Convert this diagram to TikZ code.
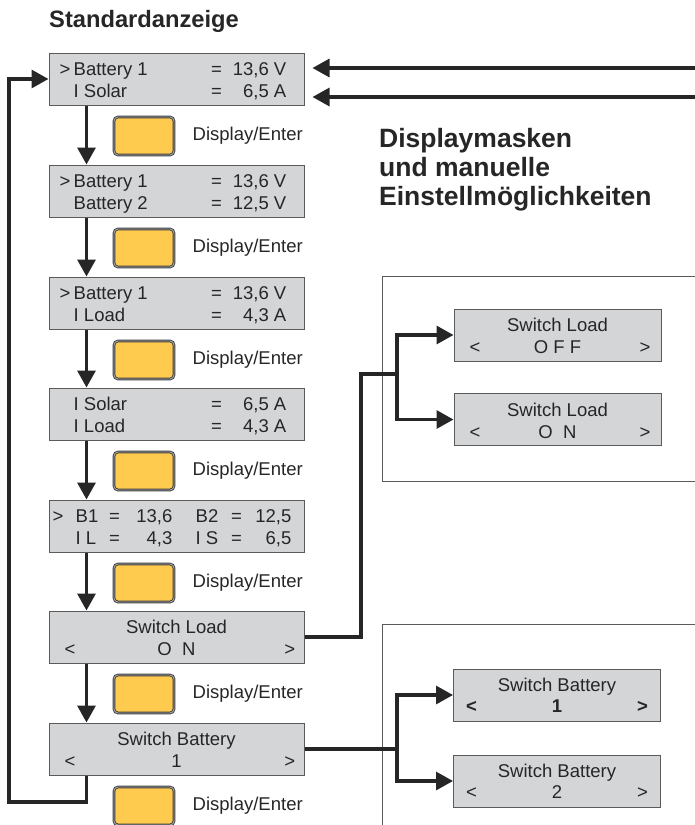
\documentclass[tikz,border=0pt]{standalone}
\usepackage{fontspec}
\setmainfont{Liberation Sans}
\usetikzlibrary{calc,arrows.meta,positioning}
\definecolor{lcdc}{HTML}{D4D5D7}
\definecolor{edgec}{HTML}{5A5A5A}
\definecolor{keyc}{HTML}{FFCB4F}
\definecolor{inkc}{HTML}{262626}
\tikzset{
  ar/.style={-{Triangle[length=17pt,width=18pt]},line width=3.2pt,inkc},
  ln/.style={line width=3.2pt,inkc},
  lcd/.style={draw=edgec,line width=1pt,fill=lcdc,minimum width=255pt,minimum height=52pt,inner sep=0pt},
  lcdr/.style={lcd,minimum width=207pt},
  key/.style={draw=black!75,double=black!35,double distance=0.9pt,line width=0.9pt,fill=keyc,rounded corners=4pt,minimum width=60pt,minimum height=38pt,inner sep=0pt},
  txt/.style={font=\fontsize{18.5}{20}\selectfont,text=inkc,inner sep=0pt},
  hd/.style={font=\fontsize{23.7}{26}\selectfont\bfseries,text=inkc,inner sep=0pt,anchor=base west},
  hdb/.style={hd,font=\fontsize{26.5}{29}\selectfont\bfseries},
  frm/.style={edgec,line width=1pt}
}
\begin{document}
\begin{tikzpicture}[x=1pt,y=-1pt]
\useasboundingbox (0,0) rectangle (695,825);
% headings
\node[hd] (ttl) at (49,27) {Standardanzeige};
\node[hdb] (h1) at (379,147) {Displaymasken};
\node[hdb] (h2) at (379,176) {und manuelle};
\node[hdb] (h3) at (379,205) {Einstellmöglichkeiten};
% frames on the right
\draw[frm] (695,276) -| (382,481) -- (695,481);
\draw[frm] (695,624) -| (382,825);
% screens of the main loop
\foreach \n/\y in {1/79,2/191,3/303,4/414,5/526,6/637,7/749}
  \node[lcd] (s\n) at (176.5,\y) {};
\foreach \n/\la/\va/\lb/\vb in {1/Battery 1/{13,6 V}/I Solar/{6,5 A},
    2/Battery 1/{13,6 V}/Battery 2/{12,5 V},
    3/Battery 1/{13,6 V}/I Load/{4,3 A},
    4/I Solar/{6,5 A}/I Load/{4,3 A}}{
  \node[txt,anchor=base west] (la\n) at ($(s\n.north west)+(25,23)$) {\la};
  \node[txt,anchor=base] (ea\n) at ($(s\n.north west)+(168,23)$) {=};
  \node[txt,anchor=base east] (va\n) at ($(s\n.north west)+(238,23)$) {\va};
  \node[txt,anchor=base west] (lb\n) at ($(s\n.north west)+(25,45)$) {\lb};
  \node[txt,anchor=base] (eb\n) at ($(s\n.north west)+(168,45)$) {=};
  \node[txt,anchor=base east] (vb\n) at ($(s\n.north west)+(238,45)$) {\vb};
}
\foreach \n in {1,2,3}
  \node[txt,anchor=base west] (cur\n) at ($(s\n.north west)+(11,23)$) {>};
% summary screen
\node[txt,anchor=base west] (cur5) at ($(s5.north west)+(4,23)$) {>};
\foreach \r/\dy/\pa/\qa/\pb/\qb in {a/23/B1/{13,6}/B2/{12,5}, b/45/I L/{4,3}/I S/{6,5}}{
  \node[txt,anchor=base west] (p\r) at ($(s5.north west)+(27,\dy)$) {\pa};
  \node[txt,anchor=base] (e\r) at ($(s5.north west)+(66,\dy)$) {=};
  \node[txt,anchor=base east] (q\r) at ($(s5.north west)+(124,\dy)$) {\qa};
  \node[txt,anchor=base west] (u\r) at ($(s5.north west)+(147,\dy)$) {\pb};
  \node[txt,anchor=base] (f\r) at ($(s5.north west)+(188,\dy)$) {=};
  \node[txt,anchor=base east] (w\r) at ($(s5.north west)+(243,\dy)$) {\qb};
}
% switch screens
\node[txt,anchor=base] (sl6) at ($(s6.north)+(0,23)$) {Switch Load};
\node[txt,anchor=base] (sv6) at ($(s6.north)+(0,45)$) {O\ \ N};
\node[txt,anchor=base] (sl7) at ($(s7.north)+(0,23)$) {Switch Battery};
\node[txt,anchor=base] (sv7) at ($(s7.north)+(0,45)$) {1};
\foreach \n in {6,7}{
  \node[txt,anchor=base west] (lt\n) at ($(s\n.north west)+(16,45)$) {<};
  \node[txt,anchor=base east] (gt\n) at ($(s\n.north east)+(-9,45)$) {>};
}
% keys
\foreach \n in {1,...,7}{
  \node[key] (k\n) at ($(s\n.south west)+(95.5,30.5)$) {};
  \node[txt,anchor=base west] (t\n) at ($(s\n.south west)+(144,35)$) {Display/Enter};
}
% right screens
\node[lcdr] (r1) at (557.5,335) {};
\node[lcdr] (r2) at (557.5,419.5) {};
\node[lcdr] (b1) at (557,695) {};
\node[lcdr] (b2) at (557,781) {};
\node[txt,anchor=base] (rl1) at ($(r1.north)+(0,23)$) {Switch Load};
\node[txt,anchor=base] (rv1) at ($(r1.north)+(0,45)$) {O F F};
\node[txt,anchor=base] (rl2) at ($(r2.north)+(0,23)$) {Switch Load};
\node[txt,anchor=base] (rv2) at ($(r2.north)+(0,45)$) {O\ \ N};
\node[txt,anchor=base] (bl1) at ($(b1.north)+(0,23)$) {Switch Battery};
\node[txt,anchor=base,font=\fontsize{18.5}{20}\selectfont\bfseries] (bv1) at ($(b1.north)+(0,44)$) {1};
\node[txt,anchor=base] (bl2) at ($(b2.north)+(0,23)$) {Switch Battery};
\node[txt,anchor=base] (bv2) at ($(b2.north)+(0,44)$) {2};
\foreach \m in {r1,r2}{
  \node[txt,anchor=base west] (lt\m) at ($(\m.north west)+(16,45)$) {<};
  \node[txt,anchor=base east] (gt\m) at ($(\m.north east)+(-11,45)$) {>};
}
\node[txt,anchor=base west,font=\fontsize{18.5}{20}\selectfont\bfseries] (ltb1) at ($(b1.north west)+(13,44)$) {<};
\node[txt,anchor=base east,font=\fontsize{18.5}{20}\selectfont\bfseries] (gtb1) at ($(b1.north east)+(-13,44)$) {>};
\node[txt,anchor=base west] (ltb2) at ($(b2.north west)+(13,44)$) {<};
\node[txt,anchor=base east] (gtb2) at ($(b2.north east)+(-13,44)$) {>};
% main loop arrows
\foreach \a/\b in {1/2,2/3,3/4,4/5,5/6,6/7}
  \draw[ar] ([xshift=38pt]s\a.south west) -- ([xshift=38pt]s\b.north west);
\coordinate (lb) at (9,802);
\draw[ar] ([xshift=38pt]s7.south west) |- (lb) |- (s1.west);
% incoming arrows
\coordinate (in1) at (695,68);
\coordinate (in2) at (695,97);
\draw[ar] (in1) -- ($(s1.east |- in1)+(8,0)$);
\draw[ar] (in2) -- ($(s1.east |- in2)+(8,0)$);
% branches
\coordinate (kl) at (361,374);
\coordinate (jl) at (397,374);
\draw[ln] (s6.east) -| (kl) -- (jl);
\draw[ar] (jl) |- (r1.west);
\draw[ar] (jl) |- (r2.west);
\coordinate (jb) at (397,749);
\draw[ln] (s7.east) -- (jb);
\draw[ar] (jb) |- (b1.west);
\draw[ar] (jb) |- (b2.west);
\end{tikzpicture}
\end{document}
